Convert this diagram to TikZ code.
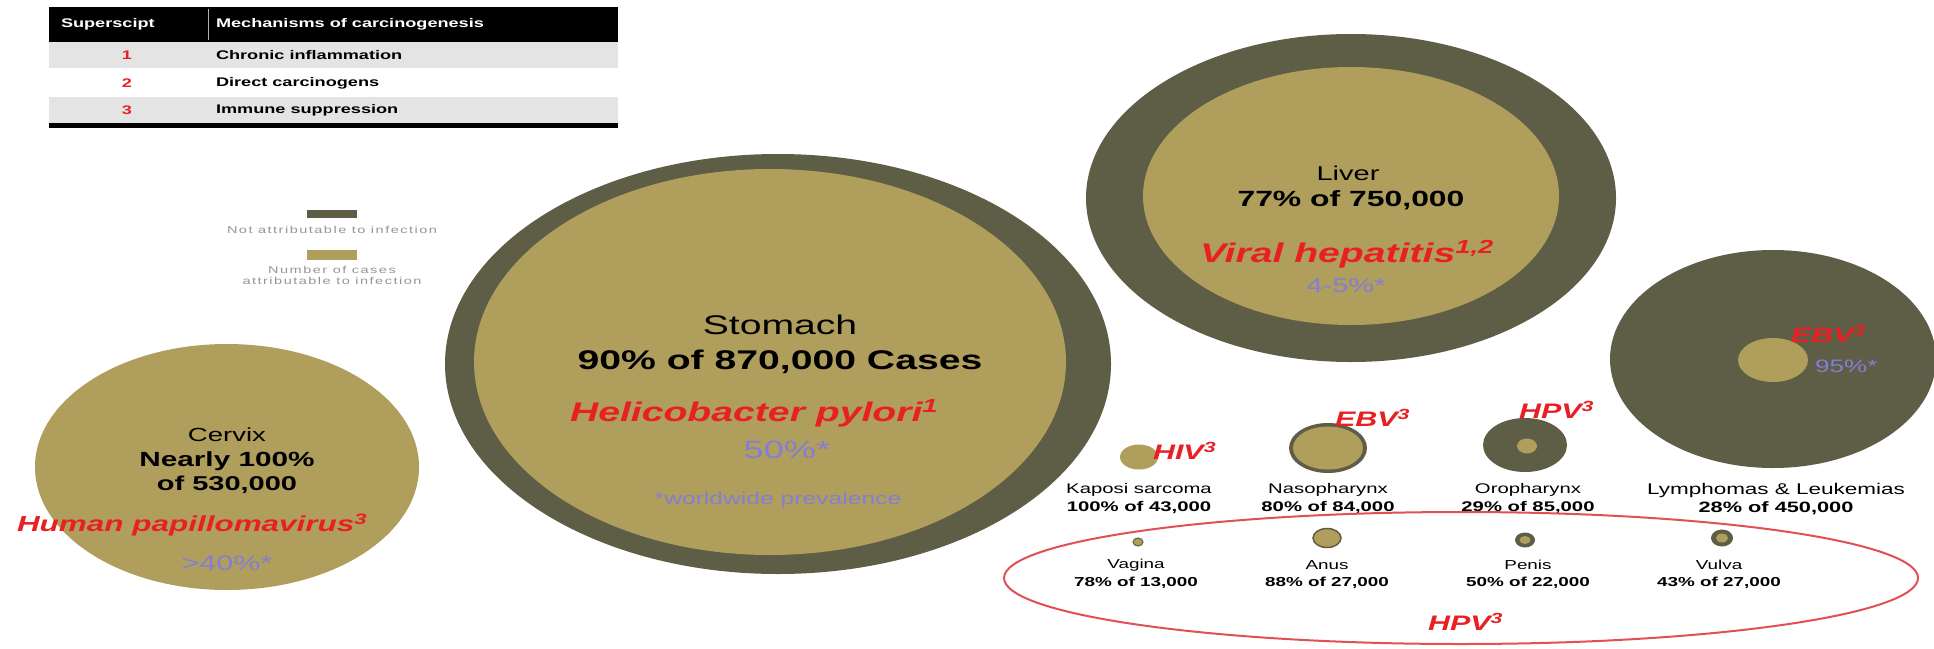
\documentclass[tikz,border=0pt]{standalone}
\usepackage{fontspec}
\setmainfont{Liberation Sans}[FakeStretch=1.45]
\usetikzlibrary{shapes.geometric}
\definecolor{cDark}{RGB}{94,93,70}
\definecolor{cTan}{RGB}{176,158,92}
\definecolor{cRed}{RGB}{232,32,36}
\definecolor{cBlue}{RGB}{132,126,212}
\definecolor{cRow}{RGB}{228,228,228}
\definecolor{cLegend}{RGB}{150,150,150}
\definecolor{cRing}{RGB}{226,80,84}
\newcommand{\pxsize}[1]{\fontsize{#1}{#1}\selectfont}
\newcommand{\legendfont}{\fontsize{10}{11}\selectfont\addfontfeature{LetterSpace=15}}
\tikzset{
  blob/.style={ellipse, inner sep=0pt, outer sep=0pt},
  shell/.style={blob, fill=cDark},
  core/.style={blob, fill=cTan},
  txt/.style={inner sep=0pt, outer sep=0pt},
  th/.style={txt, anchor=west, text=white, font=\pxsize{12.5}\bfseries},
  trow/.style={txt, anchor=west, font=\pxsize{12.5}\bfseries},
  tnum/.style={txt, text=cRed, font=\pxsize{12.5}\bfseries},
  legend/.style={txt, text=cLegend, align=center, font=\legendfont},
  site/.style={txt, font=\pxsize{14}},
  count/.style={txt, font=\pxsize{14}\bfseries},
  agent/.style={txt, anchor=west, text=cRed, font=\pxsize{21}\bfseries\itshape},
  prev/.style={txt, text=cBlue},
}
\begin{document}
\begin{tikzpicture}[x=1pt,y=-1pt]
\useasboundingbox (0,0) rectangle (1934,648);
\fill[white] (0,0) rectangle (1934,648);

% ---- key to the superscripts ----
\fill[black] (49,7) rectangle (618,42);
\fill[cRow] (49,42) rectangle (618,68);
\fill[cRow] (49,97) rectangle (618,123);
\fill[black] (49,123) rectangle (618,128);
\draw[gray!60, line width=1pt] (208,9) -- (208,40);
\node[th] (hSup) at (61,24) {Superscipt};
\node[th] (hMech) at (216,24) {Mechanisms of carcinogenesis};
\node[tnum] (n1) at (127,55) {1};
\node[tnum] (n2) at (127,83) {2};
\node[tnum] (n3) at (127,110) {3};
\node[trow] (m1) at (216,55) {Chronic inflammation};
\node[trow] (m2) at (216,83) {Direct carcinogens};
\node[trow] (m3) at (216,110) {Immune suppression};

% ---- legend ----
\fill[cDark] (307,210) rectangle (357,218);
\node[legend] (lgA) at (332,230) {Not attributable to infection};
\fill[cTan] (307,250) rectangle (357,260);
\node[legend] (lgB) at (332,275) {Number of cases\\attributable to infection};

% ---- cervix ----
\node[core, minimum width=384pt, minimum height=246pt] (cervix) at (227,467) {};
\node[txt, font=\pxsize{19}] (cervixT) at (227,435) {Cervix};
\node[txt, font=\pxsize{20.5}\bfseries] (cervixA) at (227,461) {Nearly 100\%};
\node[txt, font=\pxsize{20}\bfseries] (cervixB) at (227,485) {of 530,000};
\node[agent, font=\pxsize{21.7}\bfseries\itshape] (cervixV) at (17,525) {Human papillomavirus\textsuperscript{3}};
\node[prev, font=\pxsize{21}] (cervixP) at (227,563) {>40\%*};

% ---- stomach ----
\node[shell, minimum width=666pt, minimum height=420pt] (stomachO) at (778,364) {};
\node[core, minimum width=592pt, minimum height=386pt] (stomachI) at (770,362) {};
\node[txt, font=\pxsize{27}] (stomachT) at (780,325) {Stomach};
\node[txt, font=\pxsize{27}\bfseries] (stomachA) at (780,362) {90\% of 870,000 Cases};
\node[agent, font=\pxsize{27}\bfseries\itshape] (stomachV) at (570,413) {Helicobacter pylori\textsuperscript{1}};
\node[prev, font=\pxsize{25}] (stomachP) at (787,450) {50\%*};
\node[prev, font=\pxsize{17}] (stomachN) at (778,500) {*worldwide prevalence};

% ---- liver ----
\node[shell, minimum width=530pt, minimum height=328pt] (liverO) at (1351,198) {};
\node[core, minimum width=416pt, minimum height=258pt] (liverI) at (1351,196) {};
\node[txt, font=\pxsize{20}] (liverT) at (1348,173) {Liver};
\node[txt, font=\pxsize{22}\bfseries] (liverA) at (1351,200) {77\% of 750,000};
\node[agent, font=\pxsize{27}\bfseries\itshape] (liverV) at (1200,254) {Viral hepatitis\textsuperscript{1,2}};
\node[prev, font=\pxsize{20}] (liverP) at (1346,286) {4-5\%*};

% ---- lymphomas & leukemias ----
\node[shell, minimum width=326pt, minimum height=218pt] (lymphO) at (1773,359) {};
\node[core, minimum width=70pt, minimum height=44pt] (lymphI) at (1773,360) {};
\node[agent] (lymphV) at (1791,334) {EBV\textsuperscript{3}};
\node[prev, anchor=west, font=\pxsize{18}] (lymphP) at (1815,366) {95\%*};
\node[site, font=\pxsize{15.5}] (lymphT) at (1776,490) {Lymphomas \& Leukemias};
\node[count, font=\pxsize{15}\bfseries] (lymphA) at (1776,508) {28\% of 450,000};

% ---- Kaposi sarcoma ----
\node[core, minimum width=38pt, minimum height=25pt] (kaposi) at (1139,457) {};
\node[agent] (kaposiV) at (1153,451) {HIV\textsuperscript{3}};
\node[site] (kaposiT) at (1139,490) {Kaposi sarcoma};
\node[count] (kaposiA) at (1139,508) {100\% of 43,000};

% ---- nasopharynx ----
\node[shell, minimum width=78pt, minimum height=50pt] (nasoO) at (1328,448) {};
\node[core, minimum width=70pt, minimum height=43pt] (nasoI) at (1328,448) {};
\node[agent] (nasoV) at (1335,418) {EBV\textsuperscript{3}};
\node[site] (nasoT) at (1328,490) {Nasopharynx};
\node[count] (nasoA) at (1328,508) {80\% of 84,000};

% ---- oropharynx ----
\node[shell, minimum width=84pt, minimum height=54pt] (oroO) at (1525,445) {};
\node[core, minimum width=20pt, minimum height=15pt] (oroI) at (1527,446) {};
\node[agent] (oroV) at (1519,410) {HPV\textsuperscript{3}};
\node[site] (oroT) at (1528,490) {Oropharynx};
\node[count] (oroA) at (1528,508) {29\% of 85,000};

% ---- HPV group ----
\node[blob, draw=cRing, line width=2pt, minimum width=914pt, minimum height=132pt] (hpvGroup) at (1461,578) {};
\node[core, draw=cDark, line width=1pt, minimum width=10pt, minimum height=8pt] (vagina) at (1138,542) {};
\node[core, draw=cDark, line width=1.5pt, minimum width=28pt, minimum height=19pt] (anus) at (1327,538) {};
\node[shell, minimum width=20pt, minimum height=15pt] (penisO) at (1525,540) {};
\node[core, minimum width=11pt, minimum height=8pt] (penisI) at (1525,540) {};
\node[shell, minimum width=22pt, minimum height=17pt] (vulvaO) at (1722,538) {};
\node[core, minimum width=12pt, minimum height=9pt] (vulvaI) at (1722,538) {};
\node[site, font=\pxsize{13}] (vaginaT) at (1136,565) {Vagina};
\node[count, font=\pxsize{13}\bfseries] (vaginaA) at (1136,583) {78\% of 13,000};
\node[site, font=\pxsize{13}] (anusT) at (1327,565) {Anus};
\node[count, font=\pxsize{13}\bfseries] (anusA) at (1327,583) {88\% of 27,000};
\node[site, font=\pxsize{13}] (penisT) at (1528,565) {Penis};
\node[count, font=\pxsize{13}\bfseries] (penisA) at (1528,583) {50\% of 22,000};
\node[site, font=\pxsize{13}] (vulvaT) at (1719,565) {Vulva};
\node[count, font=\pxsize{13}\bfseries] (vulvaA) at (1719,583) {43\% of 27,000};
\node[agent] (groupV) at (1428,622) {HPV\textsuperscript{3}};
\end{tikzpicture}
\end{document}
